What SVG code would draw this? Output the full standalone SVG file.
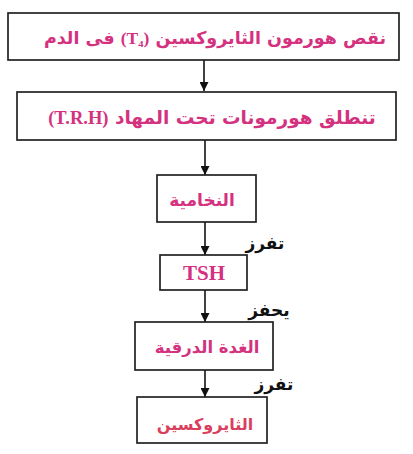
<svg xmlns="http://www.w3.org/2000/svg" width="413" height="454" viewBox="0 0 413 454">
<defs>
<marker id="ah" viewBox="0 0 10 10" refX="10" refY="5" markerWidth="9" markerHeight="9" markerUnits="userSpaceOnUse" orient="auto">
<path d="M0,0 L10,5 L0,10 z" fill="#111"/>
</marker>
<style>
.box{fill:#fff;stroke:#222;stroke-width:1.7}
.t{font-family:"DejaVu Sans",sans-serif;font-weight:bold;fill:#d4317f;text-anchor:middle;direction:rtl}
.lat{font-family:"Liberation Serif","DejaVu Serif",serif;font-weight:bold}
.lbl{font-family:"DejaVu Sans",sans-serif;fill:#111;font-weight:bold;font-size:17px;text-anchor:middle;direction:rtl}
.c{stroke:#111;stroke-width:1.6;fill:none}
</style>
</defs>
<rect width="413" height="454" fill="#fff"/>
<g id="connectors">
<line class="c" x1="204" y1="60" x2="204" y2="91" marker-end="url(#ah)"/>
<line class="c" x1="205" y1="140" x2="205" y2="175" marker-end="url(#ah)"/>
<line class="c" x1="205" y1="222" x2="205" y2="255" marker-end="url(#ah)"/>
<line class="c" x1="205" y1="290" x2="205" y2="322" marker-end="url(#ah)"/>
<line class="c" x1="205" y1="370" x2="205" y2="397" marker-end="url(#ah)"/>
<text class="lbl" x="265" y="249">تفرز</text>
<text class="lbl" x="269" y="316">يحفز</text>
<text class="lbl" x="274" y="390">تفرز</text>
</g>
<g id="n1">
<rect class="box" x="8" y="13" width="391" height="47"/>
<text class="t" x="215" y="44" font-size="17.5">نقص هورمون الثايروكسين <tspan class="lat">(T₄)</tspan> فى الدم</text>
</g>
<g id="n2">
<rect class="box" x="17" y="92" width="379" height="48"/>
<text class="t" x="212" y="124" font-size="18.5">تنطلق هورمونات تحت المهاد <tspan class="lat">(T.R.H)</tspan></text>
</g>
<g id="n3">
<rect class="box" x="157" y="175" width="99" height="47"/>
<text class="t" x="202" y="206" font-size="17">النخامية</text>
</g>
<g id="n4">
<rect class="box" x="160" y="255" width="87" height="35"/>
<text class="t lat" x="204" y="280" font-size="21" style="font-family:'Liberation Serif',serif">TSH</text>
</g>
<g id="n5">
<rect class="box" x="135" y="322" width="138" height="48"/>
<text class="t" x="207" y="353" font-size="16.5">الغدة الدرقية</text>
</g>
<g id="n6">
<rect class="box" x="137" y="397" width="130" height="46"/>
<text class="t" x="205" y="430" font-size="16" style="fill:#d8405e">الثايروكسين</text>
</g>
</svg>
